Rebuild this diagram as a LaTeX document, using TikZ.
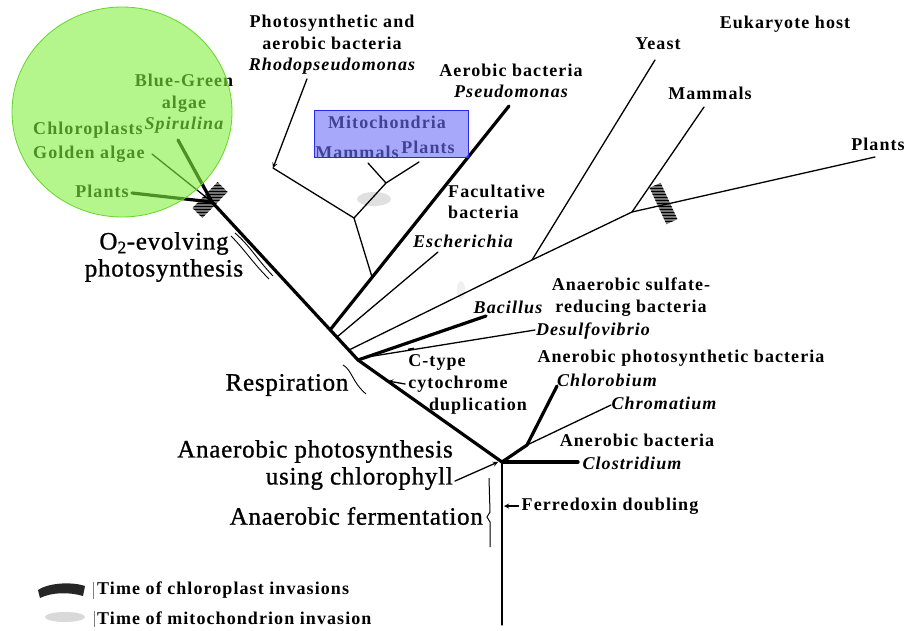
\documentclass[tikz,border=0pt]{standalone}
\usepackage{fontspec}
\setmainfont{Liberation Serif}
\newfontfamily\lblfont[LetterSpace=6]{Liberation Serif}
\newfontfamily\bigfont[LetterSpace=3, FakeBold=1]{Liberation Serif}
\usetikzlibrary{arrows, patterns, positioning}
\definecolor{hlgreen}{RGB}{130,238,63}
\definecolor{hlgreenline}{RGB}{100,215,40}
\definecolor{hlblue}{RGB}{110,110,247}
\definecolor{hlblueline}{RGB}{40,40,240}
\tikzset{>=stealth,
  thk/.style={line width=3.2pt, line cap=round, line join=round},
  thn/.style={line width=1.3pt, line cap=round, line join=round},
  lbl/.style={inner sep=0pt, align=center, font=\lblfont\bfseries\fontsize{18}{21.5}\selectfont},
  big/.style={inner sep=0pt, align=center, font=\bigfont\fontsize{25}{27}\selectfont},
  invchl/.style={fill=black!55, postaction={pattern=horizontal lines, pattern color=black}},
  invmit/.style={fill=gray!40, opacity=0.6},
}

\begin{document}
\begin{tikzpicture}[x=1pt, y=-1pt]
    \useasboundingbox (0,0) rectangle (906,630);

    \coordinate (root) at (502,625);
    \coordinate (ana) at (502,462);
    \coordinate (resp) at (358,360);
    \coordinate (chl) at (212,202);
    \coordinate (pse0) at (330,330);
    \coordinate (pse1) at (509,106);
    \coordinate (rh0) at (372,277);
    \coordinate (rh1) at (354,218);
    \coordinate (rh2) at (273,168);
    \coordinate (rh3) at (386,183);
    \coordinate (rh4) at (419,162);
    \coordinate (rh5) at (368,163);
    \coordinate (esc0) at (337,337);
    \coordinate (esc1) at (438,252);
    \coordinate (euk0) at (349,350);
    \coordinate (yn) at (532,260);
    \coordinate (yeast1) at (655,60);
    \coordinate (pn) at (632,212);
    \coordinate (mam1) at (704,107);
    \coordinate (pla1) at (875,157);
    \coordinate (bac1) at (486,316);
    \coordinate (des0) at (361,358);
    \coordinate (des1) at (535,330);
    \coordinate (cbn) at (527,445);
    \coordinate (cbm1) at (557,386);
    \coordinate (chr1) at (611,405);
    \coordinate (clo1) at (578,462);
    \coordinate (gp1) at (132,193);
    \coordinate (ga1) at (152,154);
    \coordinate (sp1) at (178,140);
    \coordinate (ctp) at (388,381);
    \coordinate (fer) at (504,506);

    % invasion marks
    \fill[invchl] (227.6,191.9) -- (217.6,182.1) -- (192.4,208.1) -- (202.4,217.9) -- cycle;
    \fill[invchl] (649.6,187.8) -- (660.6,182.8) -- (677.4,219.2) -- (666.4,224.2) -- cycle;
    \fill[invmit] (374,199) ellipse [x radius=17, y radius=7];
    \fill[invmit, opacity=0.3] (461,290) ellipse [x radius=4, y radius=9];

    \draw[thn] (root) -- (ana);
    \draw[thk] (ana) -- (resp) -- (chl);
    \draw[thk] (pse0) -- (pse1);
    \draw[thn] (rh0) -- (rh1) -- (rh2);
    \draw[thn] (rh1) -- (rh3) -- (rh4);
    \draw[thn] (rh3) -- (rh5);
    \draw[thn] (esc0) -- (esc1);
    \draw[thn] (euk0) -- (yn) -- (pn) -- (pla1);
    \draw[thn] (yn) -- (yeast1);
    \draw[thn] (pn) -- (mam1);
    \draw[thk] (resp) -- (bac1);
    \draw[thn] (des0) -- (des1);
    \draw[line width=1.8pt] (408,349.5) -- (414,348.5);
    \draw[thk] (ana) -- (cbn) -- (cbm1);
    \draw[thn] (cbn) -- (chr1);
    \draw[thk] (ana) -- (clo1);
    \draw[thk] (chl) -- (gp1);
    \draw[thn] (chl) -- (ga1);
    \draw[thk] (chl) -- (sp1);

    \node[lbl] (rhodo) at (332,45) {Photosynthetic and\\aerobic bacteria\\\itshape Rhodopseudomonas};
    \node[lbl] (aerob) at (511,81) {Aerobic bacteria\\\itshape Pseudomonas};
    \node[lbl] (eukh) at (785,24) {Eukaryote host};
    \node[lbl] (yeast) at (658,44) {Yeast};
    \node[lbl] (mamm) at (710,93) {Mammals};
    \node[lbl] (eplants) at (878,144) {Plants};
    \node[lbl, align=left, anchor=west] (facult) at (448,202) {Facultative\\bacteria};
    \node[lbl] (esch) at (463,241) {\itshape Escherichia};
    \node[lbl] (bacil) at (508,307) {\itshape Bacillus};
    \node[lbl] (sulf) at (631,297) {Anaerobic sulfate-\\reducing bacteria};
    \node[lbl] (desul) at (593,331) {\itshape Desulfovibrio};
    \node[lbl] (ctype) at (437,362) {C-type};
    \node[lbl] (cyto) at (458,384) {cytochrome};
    \node[lbl] (dupl) at (478,406) {duplication};
    \node[lbl] (anphb) at (681,358) {Anerobic photosynthetic bacteria};
    \node[lbl] (chlb) at (607,380) {\itshape Chlorobium};
    \node[lbl] (chrom) at (664,403) {\itshape Chromatium};
    \node[lbl] (anb) at (637,440) {Anerobic bacteria};
    \node[lbl] (clos) at (632,463) {\itshape Clostridium};
    \node[lbl] (ferr) at (610,506) {Ferredoxin doubling};

    \node[big] (o2evo) at (164,257) {O\textsubscript{2}-evolving\\photosynthesis};
    \node[big] (respl) at (287,385) {Respiration};
    \node[big, align=right, anchor=east] (anph) at (453,465) {Anaerobic photosynthesis\\using chlorophyll};
    \node[big, anchor=east] (anferm) at (483,516) {Anaerobic fermentation};

    \node[lbl] (bgalg) at (184,104) {Blue-Green\\algae\\\itshape Spirulina};
    \node[lbl, align=left, anchor=west] (chlgold) at (33,142) {Chloroplasts\\[3pt]Golden algae};
    \node[lbl] (gplants) at (102,191) {Plants};

    \node[lbl] (mito) at (387,122) {Mitochondria};
    \node[lbl] (mmam) at (357,152) {Mammals};
    \node[lbl] (mpla) at (428,147) {Plants};

    \draw[thn, ->] ([xshift=-25pt, yshift=-4pt]rhodo.south) -- (rh2);
    \draw[thn, ->] ([xshift=-3pt]cyto.west) -- (ctp);
    \draw[thn, ->] ([xshift=2pt, yshift=9pt]anph.south east) -- ([xshift=-4pt]ana);
    \draw[thn, ->] ([xshift=-3pt]ferr.west) -- (fer);

    % brackets
    \draw[line width=0.9pt] (231,236) .. controls (245,250) and (252,262) .. (269,279);
    \draw[line width=0.9pt] (235,233) .. controls (250,246) and (256,258) .. (273,276);
    \draw[line width=0.9pt] (343,365) .. controls (352,370) and (352,382) .. (366,394);
    \draw[line width=1pt] (489,478) -- (490,512) -- (487,517) -- (490,522) -- (490,547);

    % legend
    \fill[black!85] (38,590) .. controls (50,582) and (74,582) .. (85,586) -- (83,596) .. controls (70,592) and (52,592) .. (40,598) -- cycle;
    \fill[gray!30] (65,617) ellipse [x radius=20, y radius=5];
    \draw[gray, line width=0.8pt] (93,582) -- (93,599);
    \draw[gray, line width=0.8pt] (94,611) -- (94,627);
    \node[lbl, anchor=west] (legchl) at (97,590) {Time of chloroplast invasions};
    \node[lbl, anchor=west] (legmit) at (97,618) {Time of mitochondrion invasion};

    % highlights
    \fill[hlgreen, fill opacity=0.6] (122,112) ellipse [x radius=110, y radius=105];
    \draw[hlgreenline, line width=0.8pt] (122,112) ellipse [x radius=110, y radius=105];
    \fill[hlblue, fill opacity=0.6] (314,110) rectangle (468,157);
    \draw[hlblueline, line width=1pt] (314,110) rectangle (468,157);
\end{tikzpicture}
\end{document}
